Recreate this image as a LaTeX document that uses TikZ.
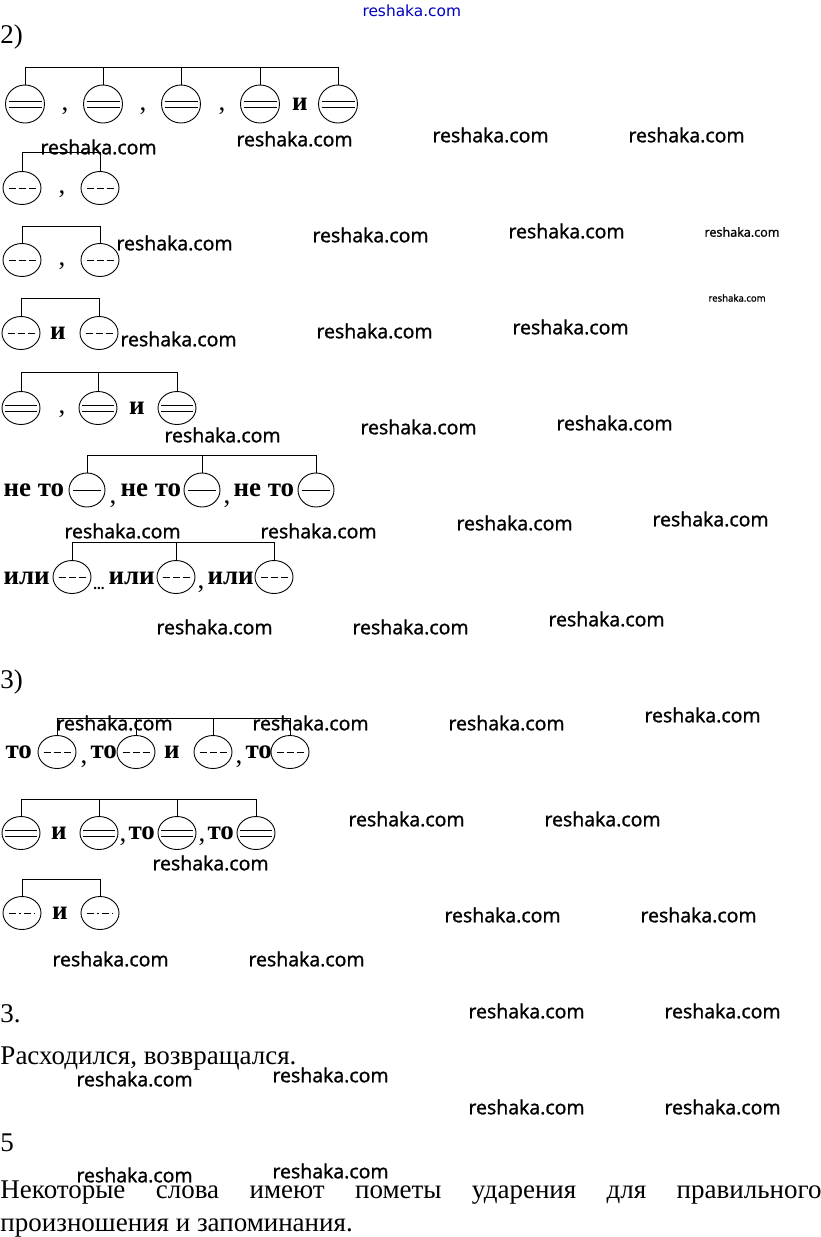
\documentclass[tikz,border=0pt]{standalone}
\usepackage{fontspec}
\setmainfont{Liberation Serif}
\newfontfamily\wmfont{Open Sans}[FakeBold=1.3]
\newfontfamily\wmtopfont{DejaVu Sans}
\usetikzlibrary{shapes.geometric}

\begin{document}
\begin{tikzpicture}[
		x=1pt, y=-1pt,
		line width=1pt,
		every node/.style={inner sep=0pt, font=\fontsize{27}{32}\selectfont},
		part/.style={ellipse, draw, line width=0.9pt, minimum width=38pt, minimum height=33pt},
		skaz/.style={part, path picture={
			\draw ([xshift=3pt,yshift=3pt]path picture bounding box.west) -- ([xshift=-3pt,yshift=3pt]path picture bounding box.east);
			\draw ([xshift=3pt,yshift=-3pt]path picture bounding box.west) -- ([xshift=-3pt,yshift=-3pt]path picture bounding box.east);}},
		podl/.style={part, path picture={
			\draw ([xshift=4pt]path picture bounding box.west) -- ([xshift=-4pt]path picture bounding box.east);}},
		dop/.style={part, path picture={
			\draw[dash pattern=on 7pt off 3pt] ([xshift=5.5pt]path picture bounding box.west) -- ([xshift=-5.5pt]path picture bounding box.east);}},
		obst/.style={part, path picture={
			\draw[dash pattern=on 7pt off 3pt on 1.5pt off 3pt] ([xshift=6pt]path picture bounding box.west) -- ([xshift=-6pt]path picture bounding box.east);}},
		txt/.style={anchor=base west},
		lbl/.style={anchor=base, font=\fontsize{27}{32}\selectfont\bfseries},
		comma/.style={anchor=base},
		wm/.style={anchor=west, font=\wmfont\fontsize{19.5}{20}\selectfont}
	]
  \useasboundingbox (0,0) rectangle (821,1237);

  \node[anchor=west, text=blue!75!black, font=\wmtopfont\fontsize{15.4}{16}\selectfont] (wm_top) at (362,11) {reshaka.com};

  % 2)
  \node[txt] (sec2) at (0,43) {2)};

  % row 1
  \node[skaz, minimum width=39pt, minimum height=38pt] (r1_1) at (25,104) {};
  \node[skaz, minimum width=39pt, minimum height=38pt] (r1_2) at (103,104) {};
  \node[skaz, minimum width=39pt, minimum height=38pt] (r1_3) at (181,104) {};
  \node[skaz, minimum width=39pt, minimum height=38pt] (r1_4) at (260,104) {};
  \node[skaz, minimum width=39pt, minimum height=38pt] (r1_5) at (338,104) {};
  \node[comma] (r1_c1) at (65,110) {,};
  \node[comma] (r1_c2) at (143,110) {,};
  \node[comma] (r1_c3) at (222,110) {,};
  \node[lbl] (r1_and) at (300,110) {и};
  \draw (r1_1) |- (r1_5 |- 0,67) -- (r1_5);
  \foreach \i in {2,3,4} \draw (r1_\i) -- (r1_\i |- 0,67);

  % row 2
  \node[dop] (r2_1) at (22,188) {};
  \node[dop] (r2_2) at (100,188) {};
  \node[comma] (r2_c1) at (62,193) {,};
  \draw (r2_1) |- (r2_2 |- 0,152) -- (r2_2);

  % row 3
  \node[dop] (r3_1) at (22,260) {};
  \node[dop] (r3_2) at (100,260) {};
  \node[comma] (r3_c1) at (62,265) {,};
  \draw (r3_1) |- (r3_2 |- 0,226) -- (r3_2);

  % row 4
  \node[dop] (r4_1) at (21,333) {};
  \node[dop] (r4_2) at (99,333) {};
  \node[lbl] (r4_and) at (58,339) {и};
  \draw (r4_1) |- (r4_2 |- 0,298) -- (r4_2);

  % row 5
  \node[skaz] (r5_1) at (21,408) {};
  \node[skaz] (r5_2) at (98,408) {};
  \node[skaz] (r5_3) at (177,408) {};
  \node[comma] (r5_c1) at (62,413) {,};
  \node[lbl] (r5_and) at (137,414) {и};
  \draw (r5_1) |- (r5_3 |- 0,372) -- (r5_3);
  \draw (r5_2) -- (r5_2 |- 0,372);

  % row 6
  \node[podl, minimum width=36pt, minimum height=34pt] (r6_1) at (87,490) {};
  \node[podl, minimum width=36pt, minimum height=34pt] (r6_2) at (202,490) {};
  \node[podl, minimum width=36pt, minimum height=34pt] (r6_3) at (316,490) {};
  \node[lbl, anchor=base west] (r6_t1) at (3,496) {не то};
  \node[lbl, anchor=base west] (r6_t2) at (120,496) {не то};
  \node[lbl, anchor=base west] (r6_t3) at (233,496) {не то};
  \node[comma] (r6_c1) at (113,503) {,};
  \node[comma] (r6_c2) at (227,503) {,};
  \draw (r6_1) |- (r6_3 |- 0,455) -- (r6_3);
  \draw (r6_2) -- (r6_2 |- 0,455);

  % row 7
  \node[dop] (r7_1) at (72,577) {};
  \node[dop] (r7_2) at (176,577) {};
  \node[dop] (r7_3) at (274,577) {};
  \node[lbl, anchor=base west] (r7_t1) at (3,584) {или};
  \node[lbl, anchor=base west] (r7_t2) at (108,584) {или};
  \node[lbl, anchor=base west] (r7_t3) at (207,584) {или};
  \node[lbl, font=\fontsize{15}{15}\selectfont\bfseries] (r7_dots) at (99,589) {...};
  \node[comma] (r7_c1) at (201,588) {,};
  \draw (r7_1) |- (r7_3 |- 0,542) -- (r7_3);
  \draw (r7_2) -- (r7_2 |- 0,542);

  % 3)
  \node[txt] (sec3) at (0,688) {3)};

  % row 8
  \node[dop] (r8_1) at (57,752) {};
  \node[dop] (r8_2) at (136,752) {};
  \node[dop] (r8_3) at (213,752) {};
  \node[dop] (r8_4) at (290,752) {};
  \node[lbl, anchor=base west] (r8_t1) at (5,758) {то};
  \node[comma] (r8_c1) at (84,763) {,};
  \node[lbl, anchor=base west] (r8_t2) at (90,758) {то};
  \node[lbl] (r8_and) at (172,758) {и};
  \node[comma] (r8_c2) at (239,763) {,};
  \node[lbl, anchor=base west] (r8_t3) at (245,758) {то};
  \draw (r8_1) |- (r8_4 |- 0,718) -- (r8_4);
  \foreach \i in {2,3} \draw (r8_\i) -- (r8_\i |- 0,718);

  % row 9
  \node[skaz] (r9_1) at (21,833) {};
  \node[skaz] (r9_2) at (99,833) {};
  \node[skaz] (r9_3) at (177,833) {};
  \node[skaz] (r9_4) at (256,833) {};
  \node[lbl] (r9_and) at (59,839) {и};
  \node[comma] (r9_c1) at (123,841) {,};
  \node[lbl, anchor=base west] (r9_t1) at (128,839) {то};
  \node[comma] (r9_c2) at (202,841) {,};
  \node[lbl, anchor=base west] (r9_t2) at (207,839) {то};
  \draw (r9_1) |- (r9_4 |- 0,799) -- (r9_4);
  \foreach \i in {2,3} \draw (r9_\i) -- (r9_\i |- 0,799);

  % row 10
  \node[obst] (r10_1) at (22,913) {};
  \node[obst] (r10_2) at (100,913) {};
  \node[lbl] (r10_and) at (60,919) {и};
  \draw (r10_1) |- (r10_2 |- 0,879) -- (r10_2);

  % answers
  \node[txt] (sec3b) at (0,1022) {3.};
  \node[txt] (ans3) at (0,1064) {Расходился, возвращался.};
  \node[txt] (sec5) at (0,1151) {5};
  \node[txt] (ans5a) at (0,1198) {\makebox[821pt][s]{Некоторые слова имеют пометы ударения для правильного}};
  \node[txt] (ans5b) at (0,1231) {произношения и запоминания.};

  % watermarks
  \foreach \x/\y in {40/147, 236/139, 432/135, 628/135,
      116/243, 312/235, 508/231, 120/339, 316/331, 512/327,
      164/435, 360/427, 556/423, 64/531, 260/531, 456/523, 652/519,
      156/627, 352/627, 548/619, 56/723, 252/723, 448/723, 644/715,
      348/819, 544/819, 152/863, 444/915, 640/915, 52/959, 248/959,
      468/1011, 664/1011, 76/1079, 272/1075, 468/1107, 664/1107,
      76/1175, 272/1171}
    \node[wm] (wm_\x_\y) at (\x,\y) {reshaka.com};
  \node[wm, font=\wmfont\fontsize{12.6}{13}\selectfont] (wm_s1) at (704,232) {reshaka.com};
  \node[wm, font=\wmfont\fontsize{9.6}{10}\selectfont] (wm_s2) at (708,298) {reshaka.com};
\end{tikzpicture}
\end{document}
